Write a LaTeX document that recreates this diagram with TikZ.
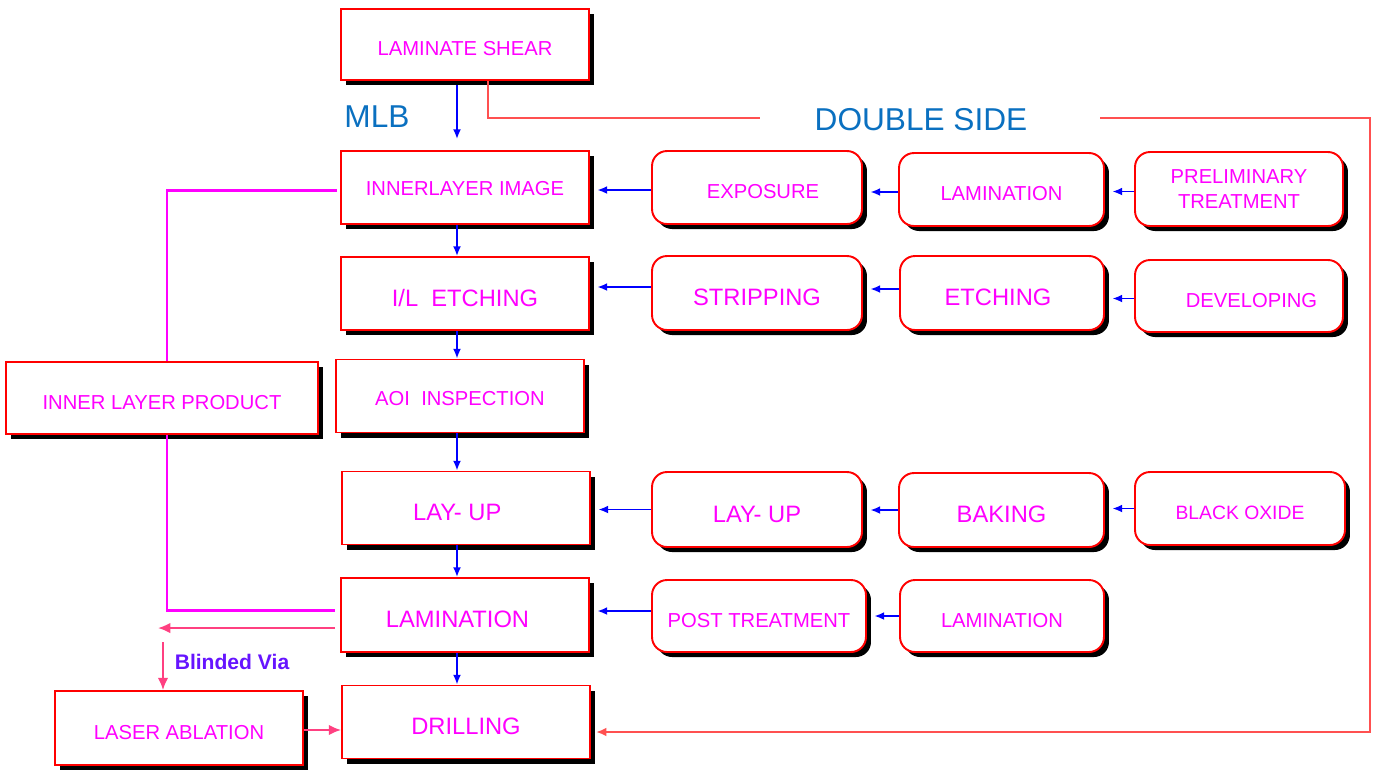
\documentclass[tikz,border=0pt]{standalone}
\usepackage{fontspec}
\setmainfont{Liberation Sans}
\usetikzlibrary{arrows.meta,shadows}
\definecolor{boxred}{RGB}{255,0,0}
\definecolor{labelpink}{RGB}{255,0,255}
\definecolor{flowblue}{RGB}{0,0,255}
\definecolor{routered}{RGB}{255,80,80}
\definecolor{viapink}{RGB}{255,64,129}
\definecolor{headblue}{RGB}{10,112,192}
\definecolor{viapurple}{RGB}{102,20,255}
\newcommand{\stagefont}{\fontsize{11.5}{14}\selectfont}
\newcommand{\stagebigfont}{\fontsize{13.5}{16}\selectfont}
\newcommand{\headfont}{\fontsize{18}{20}\selectfont}

\tikzset{
  stage/.style={draw=boxred, line width=1.1pt, fill=white, text=labelpink, font=\stagefont,
    minimum width=4.96cm, minimum height=1.46cm, align=center,
    text height=0.44cm, text depth=0pt,
    drop shadow={shadow xshift=0.1cm, shadow yshift=-0.1cm, fill=black, opacity=1}},
  substage/.style={stage, rounded corners=0.3cm, minimum width=4.2cm},
  bigstage/.style={font=\stagebigfont, text height=0.5cm},
  flow/.style={-{Latex[length=5.5pt,width=4.5pt]}, flowblue, line width=1pt},
  feed/.style={flow, shorten >=0.15cm},
  innerline/.style={labelpink, line width=1.7pt},
  route/.style={routered, line width=1.5pt},
  via/.style={-{Latex[length=7pt,width=6pt]}, viapink, line width=1.1pt},
  head/.style={text=headblue, font=\headfont}
}

\begin{document}
\begin{tikzpicture}[x=0.02cm, y=-0.02cm]
\useasboundingbox (0,0) rectangle (1380,769);

% main line (left column)
\node[stage, minimum height=1.42cm] (shear) at (465,44.5) {LAMINATE SHEAR};
\node[stage, text height=0.3cm] (image) at (465,187.5) {INNERLAYER IMAGE};
\node[stage, bigstage] (iletch) at (465,293.5) {I/L\ \ ETCHING};
\node[stage, text height=0.36cm] (aoi) at (460,396) {AOI\ \ INSPECTION};
\node[stage, bigstage] (layup) at (466,508) {LAY- UP\hspace*{0.35cm}};
\node[stage, bigstage, minimum height=1.48cm] (lam) at (465,615) {LAMINATION\hspace*{0.3cm}};
\node[stage, bigstage] (drill) at (466,722) {DRILLING};

% side boxes
\node[stage, minimum width=6.24cm, minimum height=1.44cm] (product) at (162,398) {INNER LAYER PRODUCT};
\node[stage, minimum height=1.48cm] (laser) at (179,728) {LASER ABLATION};

% double side sub steps
\node[substage] (expo) at (757,187.5) {\hspace*{0.24cm}EXPOSURE};
\node[substage, minimum width=4.1cm] (lamtop) at (1001.5,189.5) {LAMINATION};
\node[substage, minimum width=4.16cm, minimum height=1.48cm, text height=, text depth=] (prelim) at (1239,189) {PRELIMINARY\\TREATMENT};
\node[substage, bigstage, minimum height=1.48cm] (strip) at (757,293) {STRIPPING};
\node[substage, bigstage, minimum width=4.08cm, minimum height=1.48cm] (etch) at (1002,293) {ETCHING\hspace*{0.16cm}};
\node[substage, minimum width=4.16cm, minimum height=1.44cm] (devel) at (1239,296) {\hspace*{0.5cm}DEVELOPING};
\node[substage, bigstage, minimum height=1.5cm] (layupside) at (757,509.5) {LAY- UP};
\node[substage, bigstage, minimum width=4.1cm, minimum height=1.48cm] (bake) at (1001.5,510) {BAKING};
\node[substage, font=\fontsize{11}{13}\selectfont, minimum width=4.2cm] (oxide) at (1240,508.5) {BLACK OXIDE};
\node[substage, minimum width=4.28cm, minimum height=1.44cm] (post) at (759,616) {POST TREATMENT};
\node[substage, minimum width=4.08cm, minimum height=1.44cm] (lambot) at (1002,616) {LAMINATION};

% headings
\node[head] (mlb) at (377,117) {MLB};
\node[head] (double) at (921,120) {DOUBLE SIDE};
\node[text=viapurple, font=\fontsize{12}{14}\selectfont\bfseries] (blinded) at (232,662) {Blinded Via};

% vertical flow
\coordinate (spine) at (457,0);
\draw[flow, shorten <=0.08cm, shorten >=0.22cm] (shear.south -| spine) -- (image.north -| spine);
\draw[flow] (image.south -| spine) -- (iletch.north -| spine);
\draw[flow] (iletch.south -| spine) -- (aoi.north -| spine);
\draw[flow] (aoi.south -| spine) -- (layup.north -| spine);
\draw[flow] (layup.south -| spine) -- (lam.north -| spine);
\draw[flow] (lam.south -| spine) -- (drill.north -| spine);

% side feeds
\draw[feed] ([yshift=-0.05cm]prelim.west) -- ([yshift=-0.05cm]prelim.west -| lamtop.east);
\draw[feed] ([yshift=-0.05cm]lamtop.west) -- ([yshift=-0.05cm]lamtop.west -| expo.east);
\draw[feed] ([yshift=-0.05cm]expo.west) -- ([yshift=-0.05cm]expo.west -| image.east);
\draw[feed] ([yshift=-0.05cm]devel.west) -- ([yshift=-0.05cm]devel.west -| etch.east);
\draw[feed] ([yshift=0.08cm]etch.west) -- ([yshift=0.08cm]etch.west -| strip.east);
\draw[feed] ([yshift=0.12cm]strip.west) -- ([yshift=0.12cm]strip.west -| iletch.east);
\draw[feed] (oxide.west) -- (oxide.west -| bake.east);
\draw[feed] (bake.west) -- (bake.west -| layupside.east);
\draw[feed] (layupside.west) -- (layupside.west -| layup.east);
\draw[feed] (lambot.west) -- (lambot.west -| post.east);
\draw[feed] ([yshift=0.1cm]post.west) -- ([yshift=0.1cm]post.west -| lam.east);

% inner layer route
\draw[innerline] ([xshift=-0.06cm, yshift=-0.06cm]image.west) -| ([xshift=0.1cm]product.north);
\draw[innerline] ([xshift=0.1cm]product.south) |- ([xshift=-0.1cm, yshift=0.1cm]lam.west);

% blinded via route
\coordinate (blind) at (158,628);
\coordinate (blindtop) at (163,642);
\draw[via] ([xshift=-0.1cm]lam.west |- blind) -- (blind);
\draw[via] (blindtop) -- (blindtop |- laser.north);
\draw[via] ([yshift=-0.04cm]laser.east) -- ([yshift=-0.04cm]laser.east -| drill.west);

% double side route
\coordinate (dsleft) at (760,118);
\coordinate (dsright) at (1100,118);
\coordinate (rim) at (1370,118);
\draw[route] ([xshift=0.46cm]shear.south) |- (dsleft);
\draw[route, -{Latex[length=6pt,width=5pt]}, shorten >=0.1cm] (dsright) -- (rim) |- ([yshift=-0.2cm]drill.east);
\end{tikzpicture}
\end{document}
